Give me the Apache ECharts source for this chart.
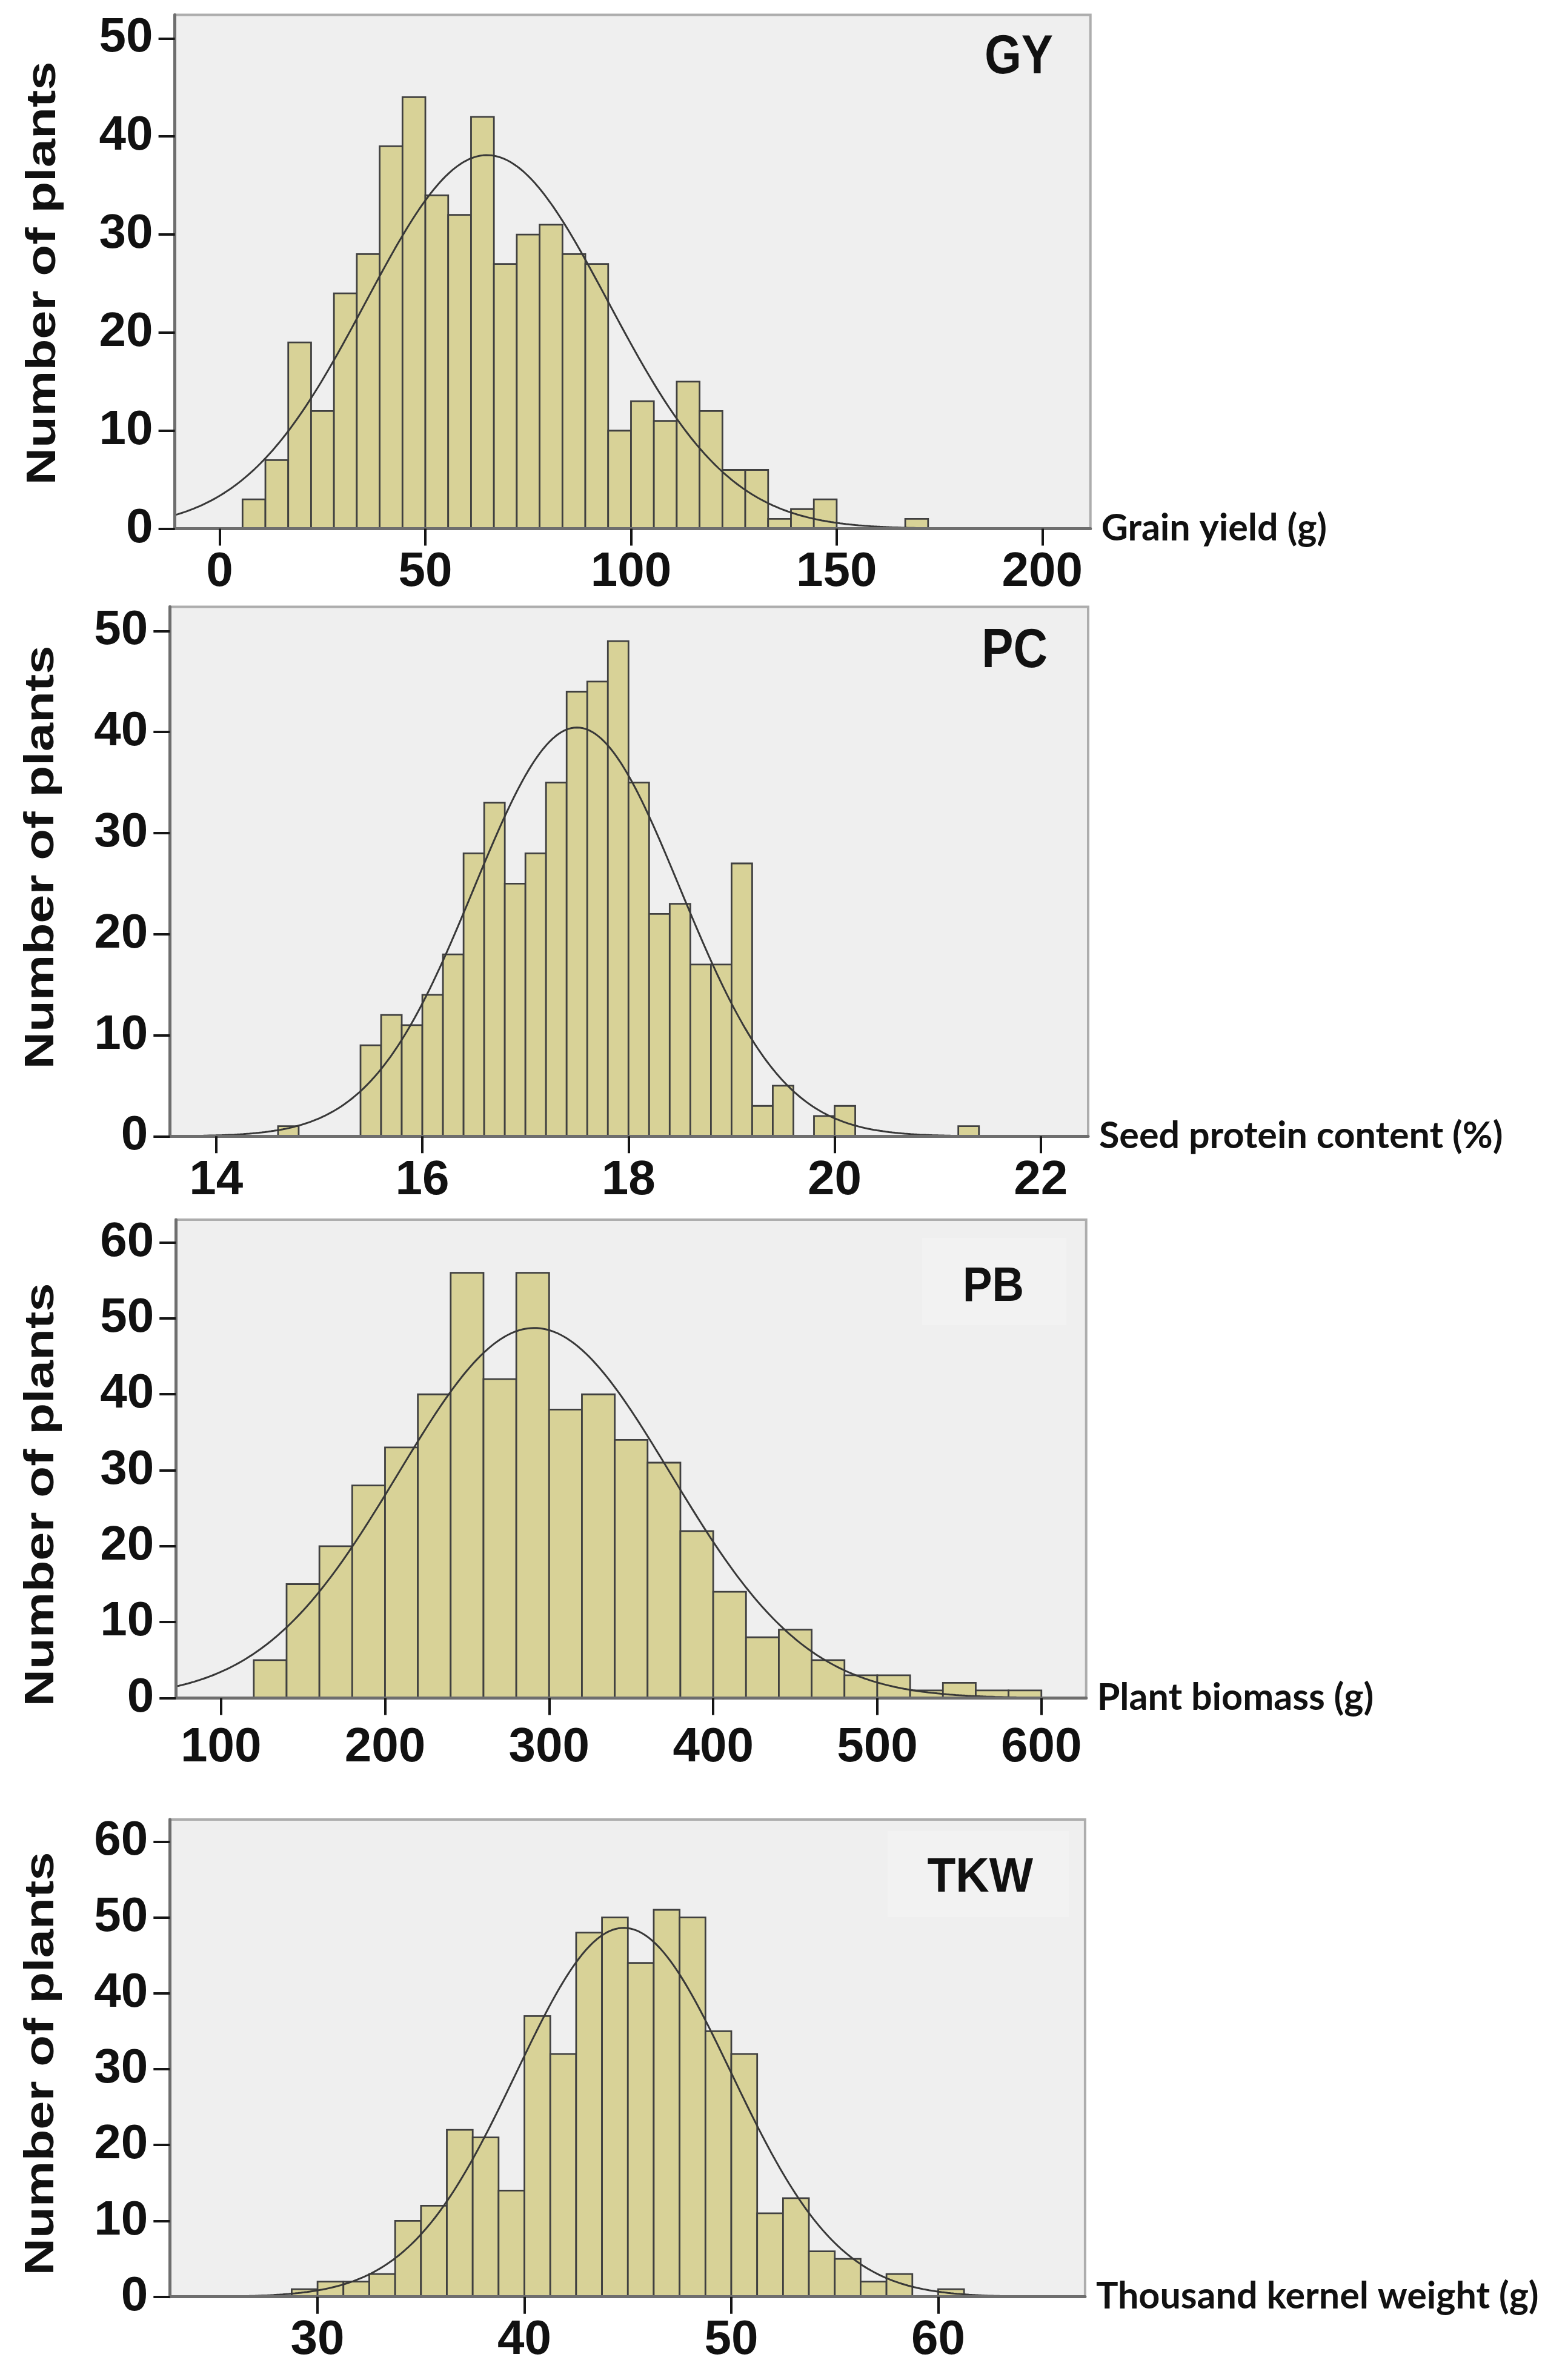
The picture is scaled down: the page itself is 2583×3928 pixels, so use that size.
<!DOCTYPE html>
<html>
<head>
<meta charset="utf-8">
<title>Trait distributions</title>
<script src="https://cdn.jsdelivr.net/npm/echarts@6/dist/echarts.min.js"></script>
<style>
  html, body { margin: 0; padding: 0; background: #ffffff; }
  #main { width: 2583px; height: 3928px; }
</style>
</head>
<body>
<div id="main"></div>
<script>
// histogram counts, one bin per entry
var gyCounts = [3, 7, 19, 12, 24, 28, 39, 44, 34, 32, 42, 27, 30, 31, 28, 27, 10, 13, 11, 15, 12, 6, 6, 1, 2, 3, 0, 0, 0, 1];
var gyBinStart = 5.556, gyBinWidth = 5.556;
var gyMean = 65, gySd = 29.5;
var gyTicks = [0, 50, 100, 150, 200];

var pcCounts = [1, 0, 0, 0, 9, 12, 11, 14, 18, 28, 33, 25, 28, 35, 44, 45, 49, 35, 22, 23, 17, 17, 27, 3, 5, 0, 2, 3, 0, 0, 0, 0, 0, 1];
var pcBinStart = 14.6, pcBinWidth = 0.2;
var pcMean = 17.5, pcSd = 1.0;
var pcTicks = [14, 16, 18, 20, 22];

var pbCounts = [5, 15, 20, 28, 33, 40, 56, 42, 56, 38, 40, 34, 31, 22, 14, 8, 9, 5, 3, 3, 1, 2, 1, 1];
var pbBinStart = 120, pbBinWidth = 20;
var pbMean = 291, pbSd = 83;
var pbTicks = [100, 200, 300, 400, 500, 600];

var tkwCounts = [1, 2, 2, 3, 10, 12, 22, 21, 14, 37, 32, 48, 50, 44, 51, 50, 35, 32, 11, 13, 6, 5, 2, 3, 0, 1];
var tkwBinStart = 28.75, tkwBinWidth = 1.25;
var tkwMean = 44.8, tkwSd = 5.2;
var tkwTicks = [30, 40, 50, 60];

var countTicks50 = [0, 10, 20, 30, 40, 50];
var countTicks60 = [0, 10, 20, 30, 40, 50, 60];

var traitCodes = ['GY', 'PC', 'PB', 'TKW'];
var traitNames = ['Grain yield (g)', 'Seed protein content (%)', 'Plant biomass (g)', 'Thousand kernel weight (g)'];
var yName = 'Number of plants';

var panels = [
  { counts: gyCounts, start: gyBinStart, width: gyBinWidth, mean: gyMean, sd: gySd, xTicks: gyTicks, yTicks: countTicks50 },
  { counts: pcCounts, start: pcBinStart, width: pcBinWidth, mean: pcMean, sd: pcSd, xTicks: pcTicks, yTicks: countTicks50 },
  { counts: pbCounts, start: pbBinStart, width: pbBinWidth, mean: pbMean, sd: pbSd, xTicks: pbTicks, yTicks: countTicks60 },
  { counts: tkwCounts, start: tkwBinStart, width: tkwBinWidth, mean: tkwMean, sd: tkwSd, xTicks: tkwTicks, yTicks: countTicks60 }
];

// layout of each panel (pixels) and axis windows
var layout = [
  { left: 288.6, top: 24.5, width: 1511.1, height: 848.1, xMin: -10.9, xMax: 211.7, yMax: 52.4, labelMargin: 32,
    code: { x: 1738, y: 96, size: 91, sx: 0.86 }, yname: { x: 72, y: 451 } },
  { left: 280.3, top: 1001.4, width: 1515.7, height: 873.9, xMin: 13.55, xMax: 22.46, yMax: 52.4, labelMargin: 34,
    code: { x: 1729, y: 1076, size: 91, sx: 0.86 }, yname: { x: 69, y: 1415 } },
  { left: 290.2, top: 2013, width: 1502.5, height: 789.5, xMin: 72.5, xMax: 627.3, yMax: 63.0, labelMargin: 42,
    code: { x: 1690, y: 2125, size: 79, sx: 0.92 }, yname: { x: 69, y: 2467 }, box: [1522, 2043, 238, 144] },
  { left: 280.3, top: 3003, width: 1510.6, height: 787.7, xMin: 22.86, xMax: 67.1, yMax: 62.9, labelMargin: 32,
    code: { x: 1705, y: 3100, size: 79, sx: 0.97 }, yname: { x: 69, y: 3406 }, box: [1465, 3022, 299, 142] }
];

var tickFont = '"Liberation Sans", Arial, sans-serif';

function histItem(params, api) {
  var top = api.coord([api.value(0), api.value(2)]);
  var base = api.coord([api.value(1), 0]);
  return {
    type: 'rect',
    shape: { x: top[0], y: top[1], width: base[0] - top[0], height: base[1] - top[1] },
    style: { fill: '#d8d297', stroke: '#404040', lineWidth: 2.8 }
  };
}

var grids = [], xAxes = [], yAxes = [], series = [], graphics = [];

panels.forEach(function (p, i) {
  var L = layout[i];
  var n = 0;
  var bins = [];
  p.counts.forEach(function (c, k) {
    n += c;
    if (c > 0) {
      var lo = +(p.start + k * p.width).toFixed(4);
      bins.push([lo, +(lo + p.width).toFixed(4), c]);
    }
  });

  // fitted normal curve scaled to counts per bin
  var curve = [];
  var steps = 300;
  for (var s = 0; s <= steps; s++) {
    var x = L.xMin + (L.xMax - L.xMin) * s / steps;
    var z = (x - p.mean) / p.sd;
    curve.push([x, n * p.width * Math.exp(-0.5 * z * z) / (p.sd * Math.sqrt(2 * Math.PI))]);
  }

  grids.push({
    left: L.left, top: L.top, width: L.width, height: L.height,
    show: true, backgroundColor: '#efefef', borderColor: '#adadad', borderWidth: 4,
    containLabel: false, outerBoundsMode: 'none'
  });

  xAxes.push({
    type: 'value', gridIndex: i, min: L.xMin, max: L.xMax, z: 5,
    axisLine: { show: true, onZero: false, lineStyle: { color: '#6e6e6e', width: 5 } },
    axisTick: { show: true, length: 28, customValues: p.xTicks, lineStyle: { color: '#151515', width: 4 } },
    axisLabel: {
      customValues: p.xTicks, margin: L.labelMargin, color: '#111',
      fontSize: 80, fontWeight: 'bold', fontFamily: tickFont
    },
    splitLine: { show: false },
    name: traitNames[i], nameLocation: 'end', nameGap: 18,
    nameTextStyle: { color: '#111', fontSize: 61, fontWeight: 'bold', fontFamily: 'Lato, "Open Sans", sans-serif', verticalAlign: 'middle' }
  });

  yAxes.push({
    type: 'value', gridIndex: i, min: 0, max: L.yMax, z: 5,
    axisLine: { show: true, onZero: false, lineStyle: { color: '#6e6e6e', width: 5 } },
    axisTick: { show: true, length: 27, customValues: p.yTicks, lineStyle: { color: '#151515', width: 4 } },
    axisLabel: {
      customValues: p.yTicks, margin: 36, color: '#111',
      fontSize: 80, fontWeight: 'bold', fontFamily: tickFont
    },
    splitLine: { show: false }
  });

  series.push({
    type: 'custom', xAxisIndex: i, yAxisIndex: i, renderItem: histItem,
    encode: { x: [0, 1], y: 2 }, data: bins, clip: true, z: 2, silent: true
  });
  series.push({
    type: 'line', xAxisIndex: i, yAxisIndex: i, data: curve, showSymbol: false,
    smooth: false, clip: true, z: 3, silent: true,
    lineStyle: { color: '#383838', width: 3 }
  });

  if (L.box) {
    graphics.push({
      type: 'rect', shape: { x: L.box[0], y: L.box[1], width: L.box[2], height: L.box[3] },
      style: { fill: '#f2f2f2' }, z: 1, silent: true
    });
  }
  graphics.push({
    type: 'text', x: L.code.x, y: L.code.y, scaleX: L.code.sx, z: 10,
    style: {
      text: traitCodes[i], fill: '#111', align: 'right', verticalAlign: 'middle',
      font: 'bold ' + L.code.size + 'px "Liberation Sans", Arial, sans-serif'
    }
  });
  graphics.push({
    type: 'text', x: L.yname.x, y: L.yname.y, rotation: Math.PI / 2, scaleY: 0.8, z: 10,
    style: {
      text: yName, fill: '#111', align: 'center', verticalAlign: 'middle',
      font: 'bold 85px "Liberation Sans", Arial, sans-serif'
    }
  });
});

var chart = echarts.init(document.getElementById('main'), null, { renderer: 'canvas' });
chart.setOption({
  backgroundColor: '#ffffff',
  animation: false,
  grid: grids,
  xAxis: xAxes,
  yAxis: yAxes,
  series: series,
  graphic: { elements: graphics }
});
</script>
</body>
</html>
